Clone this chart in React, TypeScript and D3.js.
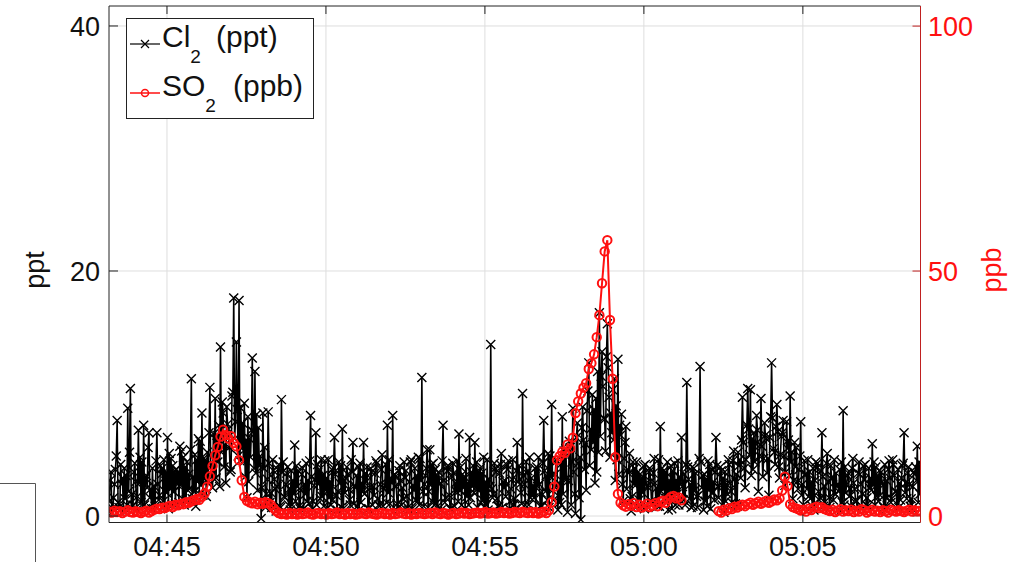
import React from 'react';
import * as d3 from 'd3';

// ---------- data ----------
const startTime = '04:43:11';
const stepSeconds = 5;
const xDomain = ['04:43:10.6', '05:08:42'];
const leftDomain = [-0.53, 41.63];
const rightDomain = [-1.33, 104.1];
const xTickLabels = ['04:45', '04:50', '04:55', '05:00', '05:05'];
const leftTicks = [0, 20, 40];
const rightTicks = [0, 50, 100];
const seriesNames = ['Cl', 'SO'];
const seriesUnits = ['(ppt)', '(ppb)'];
const axisLabels = ['ppt', 'ppb'];

// Cl2 samples at start + i*step
const cl2: number[] = [
  1.2, 0.3, 2.6, 7.8, 0.5, 3.1, 1.4, 8.8, 10.4, 0.9,
  2.8, 7.0, 1.1, 7.4, 3.3, 6.8, 0.6, 2.4, 6.8, 1.7,
  3.9, 0.8, 6.4, 2.2, 4.1, 1.0, 3.6, 2.5, 4.8, 1.3,
  3.4, 11.2, 2.0, 4.6, 1.8, 8.4, 3.0, 5.2, 10.5, 2.3,
  9.6, 4.4, 13.8, 8.4, 2.7, 7.1, 3.8, 17.8, 14.2, 17.6,
  5.5, 9.2, 1.5, 6.3, 12.9, 11.8, 2.1, 4.9, 8.4, 0.7,
  8.5, 1.9, 3.7, 0.4, 4.2, 9.5, 1.6, 3.5, 2.2, 0.9,
  5.8, 2.4, 0.6, 3.9, 1.8, 2.9, 8.2, 1.2, 6.8, 2.6,
  4.6, 0.8, 3.1, 1.5, 3.8, 6.4, 0.5, 2.7, 7.1, 1.9,
  3.4, 0.9, 6.0, 2.3, 4.0, 1.1, 6.0, 2.8, 0.6, 3.6,
  1.7, 4.3, 0.8, 5.0, 2.5, 7.4, 1.0, 8.2, 3.2, 0.7,
  2.9, 1.4, 3.7, 0.5, 4.6, 2.1, 3.3, 0.9, 11.3, 2.6,
  5.4, 5.4, 1.2, 3.8, 0.8, 2.7, 7.4, 1.5, 4.1, 0.6,
  3.5, 2.0, 6.7, 0.9, 3.2, 1.6, 6.4, 2.4, 6.0, 0.7,
  3.9, 1.3, 2.8, 0.5, 14.0, 1.8, 3.6, 0.8, 5.1, 2.3,
  4.2, 0.6, 3.0, 1.4, 6.0, 2.6, 10.0, 0.9, 3.7, 1.5,
  2.5, 0.4, 4.8, 1.9, 7.8, 3.3, 0.7, 9.1, 2.4, 4.5,
  1.1, 8.1, 3.0, 0.3, 5.6, 8.8, 0.2, 4.3, -0.3, 6.2,
  2.1, 12.5, 5.4, 8.7, 3.6, 16.6, 13.4, 7.9, 15.7, 4.8,
  10.3, 2.9, 12.8, 6.6, 1.2, 7.3, 3.5, 0.4, 2.6, 4.4,
  1.3, 3.1, 0.6, 2.4, 3.9, 1.0, 2.7, 0.8, 7.3, 2.2,
  3.6, 0.5, 4.1, 1.6, 2.9, 0.9, 6.4, 3.4, 10.9, 1.4,
  4.0, 2.1, 0.7, 12.2, 3.3, 1.2, 4.5, 0.6, 2.8, 6.4,
  1.5, 3.7, 0.3, 2.6, 4.2, 1.1, 3.0, 0.8, 4.6, 9.7,
  2.3, 10.4, 10.3, 3.8, 5.9, 2.0, 9.6, 4.7, 6.3, 1.7,
  12.5, 5.2, 9.1, 3.1, 6.8, 2.5, 5.5, 9.8, 1.4, 4.0,
  2.2, 7.7, 0.9, 3.4, 1.6, 2.8, 0.5, 3.9, 1.3, 6.8,
  2.4, 5.1, 0.7, 3.2, 1.8, 2.6, 0.4, 8.6, 1.9, 3.5,
  0.8, 2.7, 1.2, 4.4, 0.6, 3.0, 1.5, 2.3, 5.9, 0.9,
  3.3, 1.7, 2.5, 0.5, 3.8, 1.1, 4.2, 2.0, 0.7, 3.1,
  6.8, 1.4, 2.6, 0.6, 3.4, 5.7, 1.8,
];

// Cl2 samples at start + (i + 1/3)*step
const cl2Mid: number[] = [
  2.9, 0.6, 3.8, 1.1, 4.2, 0.4, 3.3, 2.0, 0.7, 3.6,
  0.5, 2.7, 4.4, 0.9, 2.3, 1.5, 3.9, 0.8, 2.6, 4.1,
  1.2, 3.5, 0.6, 4.7, 2.0, 3.8, 1.1, 5.3, 0.9, 4.4,
  2.2, 1.4, 5.0, 2.8, 6.1, 1.7, 4.6, 2.9, 3.4, 6.7,
  3.1, 7.4, 5.2, 4.0, 8.9, 5.6, 9.8, 6.3, 8.7, 4.5,
  7.6, 3.2, 8.1, 4.8, 6.9, 3.5, 7.2, -0.2, 3.9, 1.8,
  4.3, 0.7, 3.0, 2.4, 0.8, 3.6, 1.5, 4.0, 0.5, 2.9,
  1.2, 3.7, 2.1, 0.6, 4.3, 1.0, 3.2, 2.5, 0.9, 3.8,
  1.6, 4.5, 0.7, 2.8, 1.3, 3.4, 2.0, 4.1, 0.6, 3.1,
  2.2, 4.6, 1.0, 3.3, 0.5, 2.7, 1.8, 4.0, 2.3, 0.9,
  3.5, 1.4, 2.6, 0.8, 4.2, 1.9, 3.1, 0.4, 2.4, 3.7,
  0.9, 4.4, 1.6, 2.8, 0.6, 3.9, 1.2, 4.7, 2.0, 3.3,
  0.7, 2.5, 4.3, 1.0, 3.6, 0.5, 2.9, 4.0, 1.7, 3.2,
  0.8, 4.5, 2.1, 3.4, 0.6, 2.7, 1.5, 4.1, 2.3, 3.6,
  1.1, 4.8, 0.9, 3.0, 2.2, 4.3, 1.4, 3.5, 0.7, 2.9,
  3.8, 1.2, 4.6, 0.6, 2.8, 1.9, 3.3, 4.4, 0.9, 3.1,
  1.5, 4.0, 2.6, 0.8, 3.7, 1.3, 4.9, 2.1, 3.4, 0.5,
  4.2, 1.8, 5.5, 2.9, 0.9, 3.6, 6.4, 1.5, 7.2, 3.8,
  8.6, 4.1, 9.9, 2.7, 11.8, 6.5, 10.6, 5.3, 12.1, 8.4,
  6.2, 9.0, 3.4, 8.3, 4.7, 2.2, 5.1, 1.6, 3.9, 0.8,
  3.4, 1.9, 4.2, 0.7, 2.8, 3.5, 1.2, 4.6, 2.0, 3.7,
  1.4, 2.9, 0.6, 4.3, 1.8, 3.2, 2.4, 0.9, 4.0, 2.6,
  0.8, 3.5, 1.7, 4.4, 0.5, 3.0, 2.1, 3.8, 1.3, 4.1,
  2.5, 0.9, 3.6, 1.8, 2.7, 4.5, 1.0, 5.2, 3.1, 6.0,
  4.6, 7.1, 3.3, 6.8, 8.2, 4.9, 5.7, 7.6, 3.5, 6.4,
  8.0, 4.2, 6.9, 5.0, 7.8, 3.6, 6.2, 4.4, 2.9, 5.6,
  3.8, 1.7, 4.5, 2.2, 3.6, 0.8, 2.9, 4.3, 1.5, 3.2,
  0.7, 2.8, 4.1, 1.3, 3.5, 2.0, 4.4, 0.9, 2.6, 1.6,
  3.9, 2.2, 0.6, 3.4, 1.8, 4.2, 0.8, 3.1, 2.5, 4.0,
  1.2, 3.6, 0.7, 2.9, 4.5, 1.4, 3.3, 0.6, 2.7, 4.1,
  1.9, 3.5, 0.8, 2.4, 4.0, 1.1,
];

// Cl2 samples at start + (i + 2/3)*step
const cl2Late: number[] = [
  3.6, 1.5, 4.9, 0.7, 2.6, 3.9, 0.9, 5.2, 1.8, 4.3,
  1.6, 4.8, 0.8, 3.1, 5.6, 2.2, 0.6, 4.5, 1.3, 3.4,
  4.6, 1.9, 5.1, 0.9, 3.7, 2.6, 5.7, 1.4, 4.0, 2.1,
  5.4, 3.2, 0.8, 6.3, 2.5, 4.7, 1.6, 6.8, 4.2, 3.0,
  6.6, 2.4, 9.3, 5.8, 7.5, 3.6, 10.1, 7.7, 4.9, 8.8,
  4.4, 6.2, 2.8, 7.0, 3.9, 8.3, 4.1, 2.3, 5.6, 3.0,
  1.1, 4.6, 2.2, 3.8, 0.7, 4.4, 2.6, 0.9, 3.7, 1.8,
  4.1, 0.8, 3.4, 2.6, 1.2, 4.5, 0.6, 3.0, 4.2, 1.4,
  3.3, 2.1, 4.6, 0.9, 3.9, 1.7, 4.4, 0.7, 2.9, 4.0,
  1.3, 3.6, 2.5, 0.8, 4.3, 2.0, 3.5, 0.6, 3.9, 2.4,
  4.5, 0.9, 3.8, 2.2, 1.1, 4.6, 2.7, 3.4, 1.0, 4.1,
  2.3, 3.1, 0.7, 4.4, 2.5, 1.3, 4.8, 2.9, 0.8, 3.9,
  2.0, 4.2, 0.9, 3.3, 2.6, 4.5, 1.1, 3.7, 0.6, 4.3,
  2.7, 1.2, 4.0, 2.3, 4.7, 0.9, 3.6, 1.9, 4.4, 2.1,
  3.5, 0.7, 4.6, 2.4, 1.5, 3.9, 0.8, 4.2, 2.8, 1.6,
  4.5, 2.2, 0.9, 3.7, 4.1, 1.0, 2.6, 3.5, 4.8, 1.7,
  3.9, 2.4, 0.8, 4.3, 2.0, 5.1, 3.2, 1.3, 4.6, 2.7,
  0.9, 5.3, 3.0, 6.1, 4.4, 1.8, 7.6, 4.8, 8.9, 5.9,
  10.2, 7.1, 6.0, 9.6, 5.2, 11.4, 8.0, 13.0, 9.7, 6.8,
  11.2, 4.6, 7.4, 2.6, 6.0, 3.8, 1.4, 4.4, 2.5, 3.6,
  0.9, 4.1, 2.7, 3.6, 1.2, 4.7, 2.3, 0.8, 3.9, 1.5,
  4.4, 2.1, 3.7, 0.9, 4.5, 2.6, 1.3, 4.2, 3.0, 0.7,
  3.9, 1.6, 4.7, 2.3, 3.4, 0.8, 4.2, 1.9, 3.6, 2.4,
  4.0, 3.1, 1.2, 4.6, 2.0, 5.3, 3.4, 4.1, 6.2, 3.9,
  7.4, 5.0, 6.3, 4.4, 7.0, 5.8, 3.2, 6.6, 4.7, 8.1,
  5.5, 7.3, 4.0, 6.5, 4.9, 7.7, 3.3, 5.2, 6.0, 2.8,
  4.9, 2.6, 3.4, 4.6, 1.4, 3.9, 4.4, 2.0, 3.7, 0.8,
  4.3, 1.5, 3.0, 4.6, 2.4, 3.8, 1.1, 4.0, 3.3, 2.2,
  4.7, 1.3, 3.5, 2.6, 4.1, 0.9, 3.9, 2.1, 4.4, 1.6,
  3.7, 2.8, 4.2, 1.5, 3.1, 4.6, 2.0, 3.8, 1.3, 4.3,
  2.7, 4.0, 1.4, 3.6, 2.9, 4.4,
];

const so2: (number | null)[] = [
  0.9, 0.7, 1.1, 0.8, 1.0, 0.6, 0.9, 1.2, 0.8, 0.7,
  1.0, 0.8, 0.6, 0.9, 1.1, 0.7, 1.0, 1.3, 1.5, 1.4,
  1.7, 1.6, 1.9, 2.1, 1.8, 2.3, 2.2, 2.5, 2.4, 2.8,
  2.7, 3.0, 3.2, 3.5, 3.3, 3.9, 4.6, 6.0, 8.1, 10.2,
  12.4, 14.1, 16.2, 17.6, 16.5, 15.8, 16.3, 14.9, 14.2, 11.4,
  7.3, 3.9, 3.1, 2.8, 2.6, 2.9, 2.4, 2.7, 2.5, 2.8,
  2.6, 2.3, 1.6, 1.0, 0.6, 0.4, 0.5, 0.3, 0.6, 0.4,
  0.5, 0.3, 0.6, 0.4, 0.5, 0.7, 0.4, 0.3, 0.5, 0.6,
  0.4, 0.5, 0.3, 0.6, 0.4, 0.5, 0.7, 0.4, 0.5, 0.3,
  0.6, 0.4, 0.5, 0.3, 0.4, 0.6, 0.5, 0.4, 0.7, 0.5,
  0.4, 0.3, 0.5, 0.6, 0.4, 0.5, 0.3, 0.6, 0.4, 0.5,
  0.7, 0.5, 0.4, 0.6, 0.3, 0.5, 0.4, 0.6, 0.5, 0.4,
  0.5, 0.6, 0.4, 0.7, 0.5, 0.4, 0.6, 0.5, 0.3, 0.5,
  0.6, 0.4, 0.5, 0.7, 0.5, 0.6, 0.4, 0.5, 0.6, 0.7,
  0.5, 0.6, 0.8, 0.5, 0.6, 0.7, 0.5, 0.6, 0.8, 0.6,
  0.7, 0.5, 0.6, 0.8, 0.7, 0.6, 0.9, 0.7, 0.6, 0.8,
  0.6, 0.8, 0.5, 0.7, 0.9, 0.6, 1.2, 2.8, 6.0, 11.4,
  12.2, 13.1, 12.9, 14.6, 13.8, 16.0, 21.0, 23.4, 25.0, 26.2,
  27.1, 30.0, 31.2, 33.0, 36.5, 41.0, 47.5, 54.0, 56.3, 40.0,
  28.0, 12.0, 4.5, 2.7, 2.2, 1.9, 2.4, 2.1, 2.6, 1.8,
  2.3, 1.7, 2.0, 2.5, 1.8, 2.2, 2.6, 2.0, 2.9, 3.1,
  2.7, 3.4, 3.9, 4.1, 3.6, 3.8, 3.2, null, null, null,
  null, null, null, null, null, null, null, null, null, null,
  1.0, 0.7, 1.3, 1.1, 1.6, 1.4, 1.9, 1.7, 2.1, 2.3,
  2.0, 2.4, 2.7, 2.3, 2.6, 2.9, 2.5, 2.8, 3.1, 2.7,
  3.0, 3.4, 3.2, 3.6, 5.2, 8.0, 6.1, 2.4, 1.8, 1.6,
  1.4, 1.1, 1.3, 0.9, 1.5, 1.2, 1.7, 1.9, 1.6, 1.8,
  1.4, 1.2, 1.0, 1.3, 0.8, 1.1, 1.4, 0.9, 1.2, 1.0,
  1.3, 0.8, 1.1, 0.9, 1.4, 1.2, 0.7, 1.0, 1.3, 0.9,
  1.1, 0.8, 1.2, 1.0, 0.7, 1.3, 1.1, 0.9, 1.2, 1.0,
  0.8, 1.1, 1.3, 0.9, 1.2, 1.0, 1.1,
];

// ---------- helpers ----------
function parseT(s: string): Date {
  const parts = s.split(':').map(Number);
  const sec = parts[2] || 0;
  return new Date(2000, 0, 1, parts[0], parts[1], 0, Math.round(sec * 1000));
}
const t0 = parseT(startTime);
const timeAt = (i: number) => new Date(t0.getTime() + i * stepSeconds * 1000);

type Pt = { t: Date; v: number };
const clPoints: Pt[] = [];
cl2.forEach((v, i) => {
  clPoints.push({ t: timeAt(i), v });
  if (i < cl2Mid.length) clPoints.push({ t: timeAt(i + 1 / 3), v: cl2Mid[i] });
  if (i < cl2Late.length) clPoints.push({ t: timeAt(i + 2 / 3), v: cl2Late[i] });
});

const W = 1012;
const H = 562;
const L = 109;
const R = 920.5;
const T = 6;
const B = 522.5;
const FONT = '"Liberation Sans", Arial, Helvetica, sans-serif';
const RED = '#ff1010';

export default function App() {
  const x = d3.scaleTime().domain([parseT(xDomain[0]), parseT(xDomain[1])]).range([L, R]);
  const yL = d3.scaleLinear().domain(leftDomain).range([B, T]);
  const yR = d3.scaleLinear().domain(rightDomain).range([B, T]);

  const clLine = d3
    .line<Pt>()
    .x((d) => x(d.t))
    .y((d) => yL(d.v))(clPoints) as string;

  const soLine = d3
    .line<number | null>()
    .defined((d) => d != null)
    .x((_, i) => x(timeAt(i)))
    .y((d) => yR(d as number))(so2) as string;

  const xTicks = xTickLabels.map((s) => parseT(s));
  const fmt = d3.timeFormat('%H:%M');
  const xm = 'M-4.5,-4.5L4.5,4.5M-4.5,4.5L4.5,-4.5';

  return (
    <svg
      width={W}
      height={H}
      viewBox={`0 0 ${W} ${H}`}
      style={{ position: 'absolute', left: 0, top: 0, background: '#fff' }}
      fontFamily={FONT}
    >
      <defs>
        <clipPath id="plotclip">
          <rect x={L} y={T} width={R - L} height={B - T} />
        </clipPath>
      </defs>
      <rect x={0} y={0} width={W} height={H} fill="#fff" />

      {/* fragment of neighbouring panel */}
      <path d="M0,483.5H35.5V562" fill="none" stroke="#555" strokeWidth={1} />

      {/* grid */}
      <g stroke="#dedede" strokeWidth={1}>
        {xTicks.map((t, i) => (
          <line key={'gx' + i} x1={x(t)} x2={x(t)} y1={T} y2={B} />
        ))}
        {leftTicks.map((v, i) => (
          <line key={'gy' + i} x1={L} x2={R} y1={yL(v)} y2={yL(v)} />
        ))}
      </g>

      {/* data */}
      <g clipPath="url(#plotclip)">
        <path d={clLine} fill="none" stroke="#000" strokeWidth={1.6} strokeLinejoin="miter" strokeMiterlimit={2} />
        <g stroke="#000" strokeWidth={1.4} fill="none">
          {clPoints.map((p, i) => (
            <path key={'m' + i} d={xm} transform={`translate(${x(p.t)},${yL(p.v)})`} />
          ))}
        </g>
        <path d={soLine} fill="none" stroke={RED} strokeWidth={2} />
        <g stroke={RED} strokeWidth={2} fill="none">
          {so2.map((v, i) =>
            v == null ? null : <circle key={'c' + i} cx={x(timeAt(i))} cy={yR(v)} r={4.2} />
          )}
        </g>
      </g>

      {/* frame */}
      <line x1={L} x2={R} y1={T} y2={T} stroke="#222" strokeWidth={1} />
      <line x1={L} x2={R} y1={B} y2={B} stroke="#222" strokeWidth={1} />
      <line x1={L} x2={L} y1={T} y2={B} stroke="#222" strokeWidth={1} />
      <line x1={R} x2={R} y1={T} y2={B} stroke="#c02020" strokeWidth={1} />

      {/* x ticks */}
      <g stroke="#222" strokeWidth={1}>
        {xTicks.map((t, i) => (
          <g key={'xt' + i}>
            <line x1={x(t)} x2={x(t)} y1={B} y2={B - 8} />
            <line x1={x(t)} x2={x(t)} y1={T} y2={T + 8} />
          </g>
        ))}
      </g>
      <g fontSize={27} fill="#111" textAnchor="middle">
        {xTicks.map((t, i) => (
          <text key={'xl' + i} x={x(t)} y={556}>
            {fmt(t)}
          </text>
        ))}
      </g>

      {/* left axis */}
      <g stroke="#222" strokeWidth={1}>
        {leftTicks.map((v, i) => (
          <line key={'lt' + i} x1={L} x2={L + 9} y1={yL(v)} y2={yL(v)} />
        ))}
      </g>
      <g fontSize={27} fill="#111" textAnchor="end">
        {leftTicks.map((v, i) => (
          <text key={'ll' + i} x={100} y={yL(v)} dy="0.36em">
            {v}
          </text>
        ))}
      </g>
      <text
        transform="translate(44,270) rotate(-90)"
        textAnchor="middle"
        fontSize={27}
        fill="#111"
      >
        {axisLabels[0]}
      </text>

      {/* right axis */}
      <g stroke="#c02020" strokeWidth={1}>
        {rightTicks.map((v, i) => (
          <line key={'rt' + i} x1={R - 8} x2={R} y1={yR(v)} y2={yR(v)} />
        ))}
      </g>
      <g fontSize={27} fill={RED} textAnchor="start">
        {rightTicks.map((v, i) => (
          <text key={'rl' + i} x={928} y={yR(v)} dy="0.36em">
            {v}
          </text>
        ))}
      </g>
      <text
        transform="translate(1001,270) rotate(-90)"
        textAnchor="middle"
        fontSize={27}
        fill={RED}
      >
        {axisLabels[1]}
      </text>

      {/* legend */}
      <g>
        <rect x={126.5} y={18.5} width={187} height={100} fill="#fff" stroke="#222" strokeWidth={1} />
        <line x1={130} x2={160} y1={44} y2={44} stroke="#000" strokeWidth={1.2} />
        <path d="M-4,-4L4,4M-4,4L4,-4" transform="translate(145,44)" stroke="#000" strokeWidth={1.2} fill="none" />
        <text x={162} y={47} fontSize={30} fill="#111">
          <tspan>{seriesNames[0]}</tspan>
          <tspan fontSize={19} dy={16}>2</tspan>
          <tspan x={216} dy={-16}>{seriesUnits[0]}</tspan>
        </text>
        <line x1={130} x2={160} y1={93} y2={93} stroke={RED} strokeWidth={1.5} />
        <circle cx={145} cy={93} r={3.5} stroke={RED} strokeWidth={1.5} fill="none" />
        <text x={162} y={96} fontSize={30} fill="#111">
          <tspan>{seriesNames[1]}</tspan>
          <tspan fontSize={19} dy={16}>2</tspan>
          <tspan x={233} dy={-16}>{seriesUnits[1]}</tspan>
        </text>
      </g>
    </svg>
  );
}
